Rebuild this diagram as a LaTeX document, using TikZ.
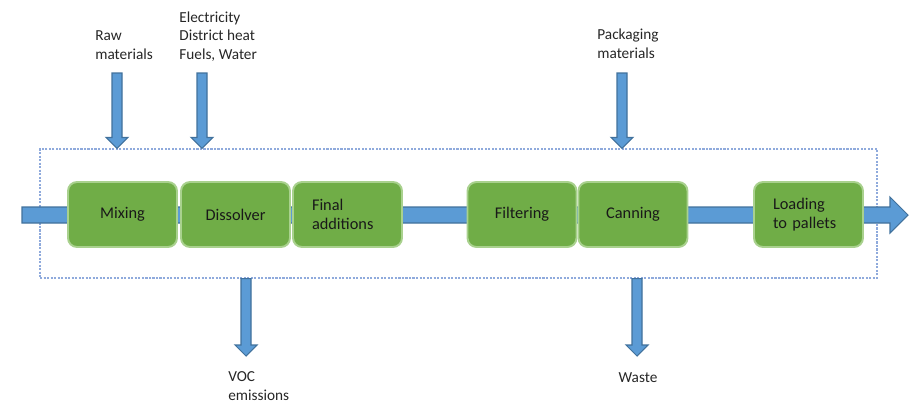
\documentclass[tikz,border=0pt]{standalone}
\usepackage{fontspec}
\setmainfont{Carlito}
\usetikzlibrary{calc,fit}
\definecolor{procgreen}{HTML}{70AD47}
\definecolor{procedge}{HTML}{A9D18E}
\definecolor{flowblue}{HTML}{5B9BD5}
\definecolor{flowedge}{HTML}{41719C}
\definecolor{framecol}{HTML}{8FAADC}
\tikzset{
	flow/.style={fill=flowblue, draw=flowedge, line width=0.6pt},
	process/.style={rounded corners=0.18cm, fill=procgreen, draw=procedge, line width=1.1pt,
		minimum width=2.18cm, minimum height=1.3cm, inner sep=0,
		font=\fontsize{9.3}{11}\selectfont, text=black!90},
	processl/.style={process, text width=1.42cm, align=left},
	tag/.style={inner sep=0, align=left, font=\fontsize{8.7}{10.4}\selectfont, text=black!85},
	frame/.style={draw=framecol, line width=0.6pt, dash pattern=on 1.2pt off 0.8pt, inner sep=0}
}
\def\blockarrow(#1)(#2){\filldraw[flow] ($(#1)+(-5,0)$) -- ($(#2)+(-5,-11)$) -- ($(#2)+(-11,-11)$) -- (#2) -- ($(#2)+(11,-11)$) -- ($(#2)+(5,-11)$) -- ($(#1)+(5,0)$) -- cycle;}

\begin{document}
\begin{tikzpicture}[x=0.02cm, y=-0.02cm]
	%%%%% START %%%%%
	\useasboundingbox (0,0) rectangle (914,403);
	
	\node[frame, fit={(40,149) (877,278)}] (system) {};
	
	% main flow
	\coordinate (in) at (22,215);
	\coordinate (out) at (908,215);
	\filldraw[flow] ($(in)+(0,-8)$) -- ($(out)+(-18,-8)$) -- ($(out)+(-18,-18)$) -- (out)
		-- ($(out)+(-18,18)$) -- ($(out)+(-18,8)$) -- ($(in)+(0,8)$) -- cycle;
	
	\node[process] (mixing) at (122.5,214.5) {Mixing};
	\node[process] (dissolver) at (235.5,214.5) {Dissolver};
	\node[processl] (finaladd) at (347.5,214.5) {Final\\additions};
	\node[process] (filtering) at (522,214.5) {Filtering};
	\node[process] (canning) at (633,214.5) {Canning};
	\node[processl] (loading) at (808.5,214.5) {Loading\\to pallets};
	
	% inputs (base = last line)
	\node[tag, anchor=base west] (raw) at (95,59) {Raw\\materials};
	\node[tag, anchor=base west] (energy) at (179,59) {Electricity\\District heat\\Fuels, Water};
	\node[tag, anchor=base west] (packaging) at (597,58) {Packaging\\materials};
	
	\coordinate (rawtop) at (117,73);
	\coordinate (energytop) at (202,73);
	\coordinate (packtop) at (622,73);
	\blockarrow(rawtop)(rawtop |- system.north)
	\blockarrow(energytop)(energytop |- system.north)
	\blockarrow(packtop)(packtop |- system.north)
	
	% outputs
	\coordinate (voctip) at (246,356);
	\coordinate (wastetip) at (637,356);
	\blockarrow(voctip |- system.south)(voctip)
	\blockarrow(wastetip |- system.south)(wastetip)
	
	\node[tag, anchor=base west] (voc) at (228,400) {VOC\\emissions};
	\node[tag, anchor=base] (waste) at (638,382) {Waste};
	
	%%%%% END %%%%%
\end{tikzpicture}
\end{document}
